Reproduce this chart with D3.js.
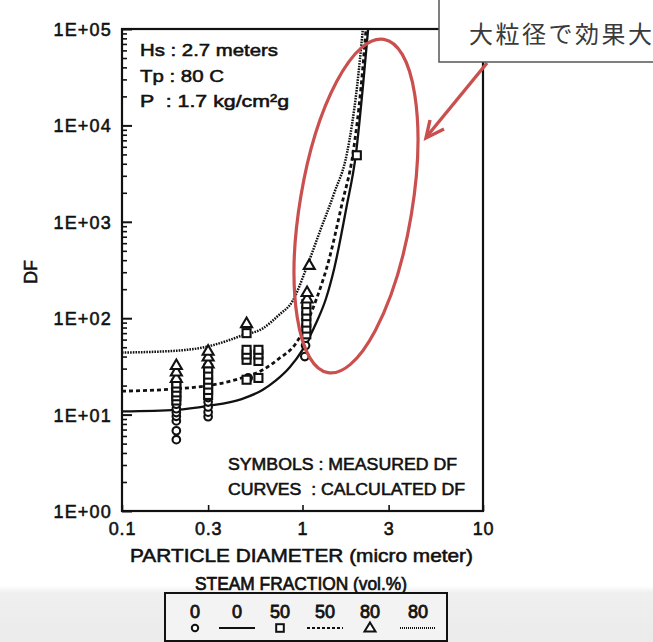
<!DOCTYPE html>
<html><head><meta charset="utf-8">
<script src="https://cdn.jsdelivr.net/npm/d3@7"></script>
<style>
html,body{margin:0;padding:0;background:#fff;}
svg{display:block;}
.lbl{font-family:"Liberation Sans",Arial,sans-serif;fill:#111;stroke:#111;stroke-width:0.55px;}
</style></head>
<body>
<svg id="c" width="653" height="642"></svg>
<script>
// ---- tick labels ----
const xTickVals = [0.1, 0.3, 1, 3, 10];
const xTickLabels = ["0.1", "0.3", "1", "3", "10"];
const yTickVals = [1, 10, 100, 1000, 10000, 100000];
const yTickLabels = ["1E+00", "1E+01", "1E+02", "1E+03", "1E+04", "1E+05"];

// ---- calculated DF curves (particle diameter, DF) ----
const curve0D  = [0.1, 0.2, 0.3, 0.46, 0.6, 0.71, 0.85, 1.0, 1.19, 1.35, 1.5, 1.75, 1.98, 2.16, 2.31];
const curve0DF = [10.8, 11.2, 12.3, 14.5, 18, 22.5, 31, 47, 89, 160, 330, 1400, 5150, 25000, 100000];
const curve50D  = [0.1, 0.2, 0.3, 0.39, 0.46, 0.6, 0.74, 0.92, 1.19, 1.4, 1.65, 1.905, 2.11, 2.25];
const curve50DF = [17.5, 18.5, 20, 22, 24, 29, 38, 55, 155, 400, 1500, 5150, 25000, 100000];
const curve80D  = [0.1, 0.2, 0.3, 0.39, 0.46, 0.6, 0.74, 0.88, 1.05, 1.25, 1.5, 1.764, 2.004, 2.16];
const curve80DF = [44, 46, 51, 59, 66, 78, 108, 150, 330, 800, 2000, 5150, 25000, 100000];

// ---- measured DF (symbols) ----
const meas0D  = [0.2,0.2,0.2,0.2,0.2,0.2,0.2, 0.3,0.3,0.3,0.3,0.3, 0.5, 1.03,1.04,1.04];
const meas0DF = [5.5,6.8,8.6,9.6,10.5,11.5,12.8, 9.5,10.6,12,13.5,15, 24, 40,52,62];
const meas50D  = [0.2,0.2,0.2,0.2,0.2, 0.3,0.3,0.3,0.3,0.3,0.3, 0.49,0.49,0.49,0.49,0.49, 0.57,0.57,0.57,0.57, 1.05,1.05,1.05,1.05,1.05,1.05, 2.0];
const meas50DF = [14,15.5,17,19,21, 16,18,20.5,23,26,30, 23,37,42,47,70, 24,36,42,47, 68,78,90,105,120,140, 4900];
const meas80D  = [0.2,0.2,0.2, 0.3,0.3,0.3, 0.49, 1.06,1.06, 1.09];
const meas80DF = [24,28,32.7, 34,40,46, 89, 160,187, 357];

// ---- legend ----
const legendLabels = ["0", "0", "50", "50", "80", "80"];
const legendKinds  = ["circle", "solid", "square", "dashed", "triangle", "dotted"];

const svg = d3.select("#c");
const W = 653, H = 642;

// background: light grey band at the bottom
const defs = svg.append("defs");
const g0 = defs.append("linearGradient").attr("id","band").attr("x1",0).attr("x2",0).attr("y1",0).attr("y2",1);
g0.append("stop").attr("offset","0").attr("stop-color","#ffffff");
g0.append("stop").attr("offset","0.12").attr("stop-color","#efefef");
g0.append("stop").attr("offset","1").attr("stop-color","#ebebeb");
svg.append("rect").attr("x",0).attr("y",586).attr("width",W).attr("height",H-586).attr("fill","url(#band)");

const x = d3.scaleLog().domain([0.1, 10]).range([122, 483]);
const y = d3.scaleLog().domain([1, 1e5]).range([511, 29]);

// frame
svg.append("rect").attr("x", x(0.1)).attr("y", y(1e5))
  .attr("width", x(10) - x(0.1)).attr("height", y(1) - y(1e5))
  .attr("fill", "none").attr("stroke", "#111").attr("stroke-width", 2.2);

// y axis majors
const yAx = svg.append("g").attr("transform", `translate(${x(0.1)},0)`)
  .call(d3.axisLeft(y).tickValues(yTickVals)
    .tickFormat((d,i) => yTickLabels[i]).tickSizeInner(-10).tickSizeOuter(0).tickPadding(10));
yAx.select(".domain").remove();
yAx.selectAll("line").attr("stroke", "#111").attr("stroke-width", 2);
yAx.selectAll("text").attr("class","lbl").attr("font-size", 18).attr("letter-spacing", 1.2).attr("dy","0.36em");

// y axis minors
const yMinor = [];
for (let e = 0; e < 5; e++) for (let k = 2; k <= 9; k++) yMinor.push(k * Math.pow(10, e));
const yAxm = svg.append("g").attr("transform", `translate(${x(0.1)},0)`)
  .call(d3.axisLeft(y).tickValues(yMinor).tickFormat("").tickSizeInner(-5).tickSizeOuter(0));
yAxm.select(".domain").remove();
yAxm.selectAll("line").attr("stroke", "#111").attr("stroke-width", 1.6);

// x axis
const xAx = svg.append("g").attr("transform", `translate(0,${y(1)})`)
  .call(d3.axisBottom(x).tickValues(xTickVals)
    .tickFormat((d,i) => xTickLabels[i]).tickSizeInner(-6).tickSizeOuter(0).tickPadding(11));
xAx.select(".domain").remove();
xAx.selectAll("line").attr("stroke", "#111").attr("stroke-width", 1.6);
xAx.selectAll("text").attr("class","lbl").attr("font-size", 18).attr("letter-spacing", 0.8);

// axis titles
svg.append("text").attr("class","lbl").attr("font-size", 18)
  .attr("transform", "translate(37,272) rotate(-90)").attr("text-anchor","middle").text("DF");
svg.append("text").attr("class","lbl").attr("font-size", 18.5)
  .attr("x", 130).attr("y", 562).attr("textLength", 343).attr("lengthAdjust","spacingAndGlyphs")
  .text("PARTICLE DIAMETER (micro meter)");
svg.append("text").attr("class","lbl").attr("font-size", 18).style("stroke-width","0.7px")
  .attr("x", 195).attr("y", 590).attr("textLength", 212).attr("lengthAdjust","spacingAndGlyphs")
  .text("STEAM FRACTION (vol.%)");

// condition notes
const notes = [["Hs : 2.7 meters", 56, 138], ["Tp : 80 C", 82, 84], ["P  : 1.7 kg/cm\u00b2g", 107, 149]];
notes.forEach(n => svg.append("text").attr("class","lbl").attr("font-size", 17)
  .attr("x", 140).attr("y", n[1]).attr("textLength", n[2]).attr("lengthAdjust","spacingAndGlyphs")
  .attr("xml:space","preserve").style("white-space","pre").text(n[0]));

svg.append("text").attr("class","lbl").attr("font-size", 16)
  .attr("x", 228).attr("y", 470).attr("textLength", 229).attr("lengthAdjust","spacingAndGlyphs")
  .text("SYMBOLS : MEASURED DF");
svg.append("text").attr("class","lbl").attr("font-size", 16)
  .attr("x", 228).attr("y", 495).attr("textLength", 237).attr("lengthAdjust","spacingAndGlyphs")
  .style("white-space","pre").text("CURVES  : CALCULATED DF");

// curves
const line = d3.line().x(d => x(d[0])).y(d => y(d[1])).curve(d3.curveMonotoneX);
defs.append("clipPath").attr("id","plot").append("rect")
  .attr("x", x(0.1)).attr("y", y(1e5)).attr("width", x(10)-x(0.1)).attr("height", y(1)-y(1e5));
const curves = [
  {d: curve0D, v: curve0DF, dash: null, w: 2.3},
  {d: curve50D, v: curve50DF, dash: "4,3", w: 2.8},
  {d: curve80D, v: curve80DF, dash: "1.6,1.1", w: 2.5}
];
curves.forEach(c => svg.append("path")
  .attr("d", line(c.d.map((dd,i) => [dd, c.v[i]])))
  .attr("fill","none").attr("stroke","#111").attr("stroke-width", c.w)
  .attr("stroke-dasharray", c.dash).attr("clip-path","url(#plot)"));

// symbols
const symG = svg.append("g").attr("stroke","#111").attr("fill","#fff").attr("stroke-width",2.1);
function drawSym(g, kind, cx, cy) {
  if (kind === "circle") g.append("circle").attr("cx",cx).attr("cy",cy).attr("r",3.8);
  else if (kind === "square") g.append("rect").attr("x",cx-4).attr("y",cy-4).attr("width",8).attr("height",8);
  else g.append("path").attr("d", `M${cx},${cy-5.5}L${cx+5.5},${cy+4}L${cx-5.5},${cy+4}Z`);
}
meas0D.forEach((d,i) => drawSym(symG, "circle", x(d), y(meas0DF[i])));
meas50D.forEach((d,i) => drawSym(symG, "square", x(d), y(meas50DF[i])));
meas80D.forEach((d,i) => drawSym(symG, "triangle", x(d), y(meas80DF[i])));

// legend box
const lg = svg.append("g");
lg.append("rect").attr("x",165).attr("y",593).attr("width",282).attr("height",48)
  .attr("fill","#f3f3f3").attr("stroke","#111").attr("stroke-width",2);
const lxPos = [195, 237, 280, 325, 370, 418];
legendLabels.forEach((t,i) => {
  lg.append("text").attr("class","lbl").attr("font-size",18).style("stroke-width","0.8px")
    .attr("text-anchor","middle").attr("x", lxPos[i]).attr("y", 618).text(t);
  const k = legendKinds[i], cx = lxPos[i], cy = 628;
  if (k === "circle" || k === "square" || k === "triangle") {
    const gg = lg.append("g").attr("stroke","#111").attr("fill","#fff").attr("stroke-width",2);
    if (k === "circle") gg.append("circle").attr("cx",cx).attr("cy",cy).attr("r",3.2);
    else if (k === "square") gg.append("rect").attr("x",cx-3.8).attr("y",cy-3.8).attr("width",7.6).attr("height",7.6);
    else gg.append("path").attr("d",`M${cx},${cy-5.5}L${cx+5.5},${cy+3.5}L${cx-5.5},${cy+3.5}Z`);
  } else {
    const dash = k === "solid" ? null : (k === "dashed" ? "3,2" : "1,1");
    lg.append("line").attr("x1",cx-18).attr("x2",cx+18).attr("y1",cy).attr("y2",cy)
      .attr("stroke","#111").attr("stroke-width", k === "solid" ? 2.2 : 1.8).attr("stroke-dasharray",dash);
  }
});

// annotation: red ellipse, arrow, callout
const red = "#c9504e";
svg.append("ellipse").attr("cx",356).attr("cy",206).attr("rx",56).attr("ry",169)
  .attr("transform","rotate(9.5,356,206)")
  .attr("fill","none").attr("stroke",red).attr("stroke-width",3.2);
svg.append("line").attr("x1",487).attr("y1",63).attr("x2",428).attr("y2",135)
  .attr("stroke",red).attr("stroke-width",3.4);
svg.append("path").attr("d","M430,120L426,138L444,129").attr("fill","none")
  .attr("stroke",red).attr("stroke-width",3.4).attr("stroke-linejoin","miter");
svg.append("rect").attr("x",439).attr("y",-3).attr("width",225).attr("height",65)
  .attr("fill","#fff").attr("stroke","#555").attr("stroke-width",1.5);
svg.append("text").attr("x",469).attr("y",43).attr("font-size",24)
  .attr("font-family","'Noto Sans CJK JP','Noto Sans CJK SC',sans-serif").attr("fill","#3a3a3a")
  .attr("textLength",183).attr("lengthAdjust","spacing").text("大粒径で効果大");
</script>
</body></html>
